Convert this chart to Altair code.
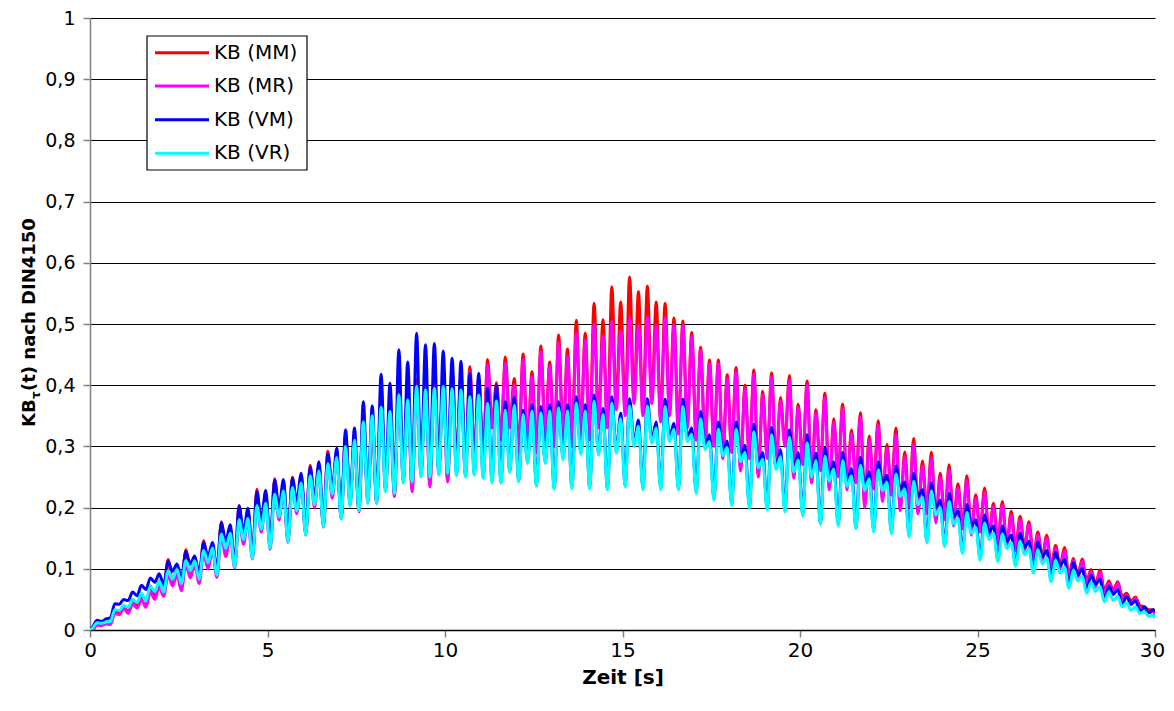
import altair as alt
import pandas as pd

FONT = "DejaVu Sans"
FS = 20

series_names = ["KB (MM)", "KB (MR)", "KB (VM)", "KB (VR)"]
series_colors = ["#FF0000", "#FF00FF", "#0000FF", "#00FFFF"]

x_ticks = [0, 5, 10, 15, 20, 25, 30]
y_ticks = [0.0, 0.1, 0.2, 0.3, 0.4, 0.5, 0.6, 0.7, 0.8, 0.9, 1.0]

# sample times: start, then every 0.125 s (alternating troughs / peaks), end
times = [0.0] + [round(0.075 + 0.125 * k, 3) for k in range(240)] + [30.0]

kb_mm = [0.0,
    0.002, 0.010, 0.009, 0.012, 0.011, 0.030, 0.028, 0.038,
    0.030, 0.050, 0.040, 0.058, 0.042, 0.072, 0.055, 0.080,
    0.060, 0.115, 0.078, 0.100, 0.070, 0.131, 0.090, 0.115,
    0.080, 0.146, 0.105, 0.138, 0.090, 0.177, 0.125, 0.165,
    0.105, 0.204, 0.145, 0.195, 0.120, 0.230, 0.165, 0.222,
    0.136, 0.247, 0.185, 0.240, 0.147, 0.250, 0.195, 0.252,
    0.159, 0.269, 0.205, 0.270, 0.172, 0.292, 0.220, 0.290,
    0.186, 0.320, 0.215, 0.310, 0.197, 0.350, 0.220, 0.345,
    0.211, 0.380, 0.235, 0.370, 0.222, 0.400, 0.250, 0.390,
    0.230, 0.410, 0.260, 0.405, 0.238, 0.420, 0.265, 0.410,
    0.246, 0.425, 0.275, 0.418, 0.260, 0.430, 0.285, 0.410,
    0.285, 0.442, 0.335, 0.404, 0.315, 0.446, 0.335, 0.411,
    0.295, 0.451, 0.305, 0.422, 0.295, 0.464, 0.315, 0.438,
    0.305, 0.482, 0.315, 0.459, 0.305, 0.506, 0.325, 0.485,
    0.315, 0.534, 0.335, 0.507, 0.335, 0.561, 0.365, 0.536,
    0.355, 0.577, 0.375, 0.553, 0.355, 0.562, 0.375, 0.536,
    0.345, 0.534, 0.355, 0.510, 0.325, 0.505, 0.335, 0.486,
    0.315, 0.462, 0.305, 0.441, 0.305, 0.441, 0.285, 0.417,
    0.295, 0.429, 0.265, 0.400, 0.285, 0.425, 0.255, 0.390,
    0.285, 0.420, 0.269, 0.380, 0.305, 0.416, 0.253, 0.369,
    0.275, 0.407, 0.245, 0.360, 0.265, 0.387, 0.234, 0.345,
    0.255, 0.369, 0.234, 0.327, 0.245, 0.355, 0.205, 0.317,
    0.235, 0.342, 0.215, 0.303, 0.225, 0.330, 0.200, 0.291,
    0.205, 0.313, 0.195, 0.276, 0.195, 0.291, 0.180, 0.256,
    0.185, 0.270, 0.175, 0.239, 0.170, 0.252, 0.160, 0.221,
    0.165, 0.232, 0.155, 0.207, 0.145, 0.210, 0.140, 0.194,
    0.135, 0.186, 0.135, 0.177, 0.120, 0.160, 0.120, 0.155,
    0.105, 0.138, 0.105, 0.135, 0.090, 0.117, 0.090, 0.116,
    0.080, 0.099, 0.075, 0.098, 0.065, 0.080, 0.065, 0.079,
    0.055, 0.060, 0.047, 0.054, 0.040, 0.038, 0.033, 0.033,
    0.028]

kb_mr = [0.0,
    0.000, 0.008, 0.007, 0.010, 0.009, 0.027, 0.025, 0.035,
    0.027, 0.042, 0.036, 0.050, 0.037, 0.062, 0.050, 0.070,
    0.055, 0.090, 0.072, 0.090, 0.064, 0.108, 0.085, 0.108,
    0.076, 0.125, 0.100, 0.130, 0.086, 0.155, 0.120, 0.155,
    0.101, 0.180, 0.140, 0.180, 0.116, 0.205, 0.160, 0.210,
    0.132, 0.225, 0.180, 0.230, 0.143, 0.240, 0.190, 0.248,
    0.155, 0.260, 0.200, 0.265, 0.168, 0.280, 0.215, 0.285,
    0.182, 0.310, 0.210, 0.305, 0.193, 0.340, 0.215, 0.335,
    0.207, 0.370, 0.230, 0.360, 0.218, 0.390, 0.245, 0.380,
    0.226, 0.400, 0.255, 0.395, 0.234, 0.410, 0.260, 0.400,
    0.242, 0.415, 0.270, 0.410, 0.255, 0.422, 0.280, 0.410,
    0.280, 0.433, 0.330, 0.396, 0.310, 0.436, 0.330, 0.400,
    0.290, 0.442, 0.300, 0.414, 0.290, 0.455, 0.310, 0.431,
    0.300, 0.469, 0.310, 0.447, 0.300, 0.485, 0.320, 0.474,
    0.310, 0.500, 0.330, 0.480, 0.330, 0.504, 0.360, 0.489,
    0.350, 0.509, 0.370, 0.497, 0.350, 0.511, 0.370, 0.497,
    0.340, 0.510, 0.350, 0.498, 0.320, 0.498, 0.330, 0.479,
    0.310, 0.457, 0.300, 0.435, 0.300, 0.435, 0.280, 0.410,
    0.290, 0.422, 0.260, 0.394, 0.280, 0.418, 0.250, 0.384,
    0.280, 0.413, 0.264, 0.374, 0.300, 0.409, 0.248, 0.363,
    0.270, 0.400, 0.240, 0.354, 0.260, 0.380, 0.229, 0.339,
    0.250, 0.362, 0.229, 0.321, 0.240, 0.348, 0.200, 0.311,
    0.230, 0.335, 0.210, 0.297, 0.220, 0.319, 0.195, 0.283,
    0.200, 0.303, 0.190, 0.268, 0.190, 0.282, 0.175, 0.249,
    0.180, 0.262, 0.170, 0.232, 0.165, 0.244, 0.155, 0.215,
    0.160, 0.225, 0.150, 0.201, 0.140, 0.204, 0.135, 0.188,
    0.130, 0.180, 0.130, 0.172, 0.115, 0.155, 0.115, 0.150,
    0.100, 0.133, 0.100, 0.130, 0.085, 0.113, 0.085, 0.112,
    0.075, 0.095, 0.070, 0.094, 0.060, 0.077, 0.060, 0.076,
    0.050, 0.057, 0.042, 0.052, 0.035, 0.036, 0.028, 0.031,
    0.025]

kb_vm = [0.0,
    0.005, 0.016, 0.014, 0.018, 0.020, 0.043, 0.042, 0.050,
    0.048, 0.062, 0.056, 0.073, 0.066, 0.085, 0.078, 0.092,
    0.074, 0.112, 0.096, 0.108, 0.085, 0.128, 0.108, 0.121,
    0.092, 0.142, 0.120, 0.143, 0.098, 0.175, 0.145, 0.172,
    0.108, 0.202, 0.160, 0.199, 0.122, 0.226, 0.180, 0.228,
    0.138, 0.245, 0.200, 0.246, 0.148, 0.248, 0.210, 0.256,
    0.158, 0.266, 0.215, 0.275, 0.172, 0.288, 0.230, 0.297,
    0.184, 0.327, 0.205, 0.330, 0.198, 0.373, 0.210, 0.366,
    0.210, 0.418, 0.229, 0.403, 0.226, 0.458, 0.243, 0.438,
    0.245, 0.485, 0.253, 0.466, 0.253, 0.468, 0.256, 0.456,
    0.259, 0.444, 0.255, 0.439, 0.253, 0.419, 0.256, 0.419,
    0.251, 0.395, 0.244, 0.399, 0.243, 0.373, 0.260, 0.380,
    0.245, 0.359, 0.275, 0.368, 0.238, 0.365, 0.275, 0.368,
    0.233, 0.373, 0.281, 0.368, 0.234, 0.381, 0.290, 0.368,
    0.234, 0.384, 0.289, 0.362, 0.232, 0.381, 0.292, 0.354,
    0.237, 0.378, 0.305, 0.343, 0.232, 0.378, 0.310, 0.340,
    0.232, 0.377, 0.315, 0.338, 0.232, 0.377, 0.315, 0.330,
    0.226, 0.357, 0.300, 0.319, 0.215, 0.340, 0.290, 0.309,
    0.206, 0.340, 0.280, 0.302, 0.202, 0.336, 0.270, 0.290,
    0.199, 0.331, 0.265, 0.295, 0.196, 0.327, 0.262, 0.290,
    0.189, 0.319, 0.255, 0.289, 0.175, 0.297, 0.248, 0.275,
    0.173, 0.290, 0.240, 0.264, 0.168, 0.282, 0.235, 0.259,
    0.163, 0.275, 0.240, 0.253, 0.160, 0.268, 0.230, 0.242,
    0.155, 0.256, 0.218, 0.229, 0.145, 0.240, 0.200, 0.212,
    0.139, 0.223, 0.185, 0.195, 0.128, 0.205, 0.170, 0.180,
    0.117, 0.188, 0.160, 0.170, 0.115, 0.170, 0.145, 0.155,
    0.107, 0.158, 0.135, 0.145, 0.096, 0.144, 0.120, 0.130,
    0.082, 0.127, 0.105, 0.115, 0.071, 0.110, 0.090, 0.100,
    0.063, 0.090, 0.075, 0.083, 0.049, 0.072, 0.058, 0.066,
    0.041, 0.055, 0.042, 0.048, 0.030, 0.038, 0.028, 0.033,
    0.030]

kb_vr = [0.0,
    0.003, 0.012, 0.011, 0.013, 0.014, 0.033, 0.032, 0.040,
    0.037, 0.050, 0.045, 0.060, 0.047, 0.072, 0.063, 0.080,
    0.062, 0.097, 0.083, 0.099, 0.076, 0.113, 0.097, 0.113,
    0.083, 0.130, 0.110, 0.134, 0.090, 0.157, 0.133, 0.158,
    0.103, 0.180, 0.148, 0.182, 0.117, 0.203, 0.165, 0.207,
    0.134, 0.222, 0.185, 0.227, 0.144, 0.233, 0.195, 0.240,
    0.155, 0.252, 0.205, 0.260, 0.169, 0.272, 0.222, 0.282,
    0.181, 0.300, 0.202, 0.310, 0.195, 0.340, 0.207, 0.350,
    0.207, 0.364, 0.226, 0.357, 0.223, 0.384, 0.240, 0.376,
    0.242, 0.398, 0.250, 0.392, 0.250, 0.395, 0.253, 0.398,
    0.256, 0.394, 0.252, 0.392, 0.250, 0.381, 0.253, 0.384,
    0.248, 0.370, 0.241, 0.374, 0.240, 0.359, 0.257, 0.367,
    0.242, 0.352, 0.272, 0.358, 0.235, 0.355, 0.272, 0.358,
    0.230, 0.363, 0.278, 0.358, 0.231, 0.371, 0.287, 0.358,
    0.231, 0.374, 0.286, 0.352, 0.229, 0.371, 0.289, 0.345,
    0.234, 0.366, 0.300, 0.333, 0.229, 0.366, 0.305, 0.330,
    0.229, 0.365, 0.308, 0.328, 0.229, 0.365, 0.308, 0.320,
    0.223, 0.345, 0.295, 0.308, 0.212, 0.328, 0.285, 0.298,
    0.203, 0.328, 0.275, 0.290, 0.199, 0.324, 0.265, 0.279,
    0.196, 0.319, 0.262, 0.283, 0.193, 0.315, 0.258, 0.278,
    0.186, 0.306, 0.250, 0.277, 0.172, 0.284, 0.243, 0.263,
    0.170, 0.277, 0.235, 0.252, 0.165, 0.269, 0.228, 0.247,
    0.160, 0.262, 0.228, 0.241, 0.157, 0.255, 0.218, 0.230,
    0.152, 0.243, 0.205, 0.217, 0.142, 0.227, 0.188, 0.200,
    0.136, 0.210, 0.173, 0.183, 0.125, 0.192, 0.158, 0.168,
    0.114, 0.175, 0.148, 0.158, 0.112, 0.157, 0.133, 0.143,
    0.104, 0.145, 0.123, 0.133, 0.093, 0.131, 0.108, 0.118,
    0.079, 0.114, 0.093, 0.103, 0.068, 0.098, 0.080, 0.088,
    0.060, 0.078, 0.063, 0.071, 0.046, 0.062, 0.048, 0.055,
    0.038, 0.045, 0.032, 0.038, 0.027, 0.030, 0.022, 0.024,
    0.019]

series_values = [kb_mm, kb_mr, kb_vm, kb_vr]

x_axis = alt.Axis(
    values=x_ticks, title="Zeit [s]", grid=False, labelFlush=False,
    domainColor="#000000", domainWidth=1.5, tickColor="#808080", tickSize=7, tickWidth=1.5,
    labelFont=FONT, labelFontSize=FS, labelColor="#000000", labelPadding=3,
    labelOffset={"condition": {"test": "datum.value == 30", "value": -3}, "value": 0},
    titleFont=FONT, titleFontSize=FS, titleFontWeight="bold", titleColor="#000000",
    titlePadding=7,
)
y_axis = alt.Axis(
    values=y_ticks, title=None, grid=True, gridColor="#000000", gridWidth=1.2, gridOpacity=1,
    domainColor="#808080", domainWidth=1.5, tickColor="#808080", tickSize=7, tickWidth=1.5,
    labelFont=FONT, labelFontSize=19, labelColor="#000000", labelPadding=8,
    labelExpr="datum.value == 0 ? '0' : datum.value == 1 ? '1' : replace(format(datum.value, '.1f'), '.', ',')",
)
x_enc = alt.X("t:Q", scale=alt.Scale(domain=[0, 30], nice=False, zero=False), axis=x_axis)
y_enc = alt.Y("kb:Q", scale=alt.Scale(domain=[0, 1], nice=False), axis=y_axis)

layers = []
for name, color, vals in zip(series_names, series_colors, series_values):
    df = pd.DataFrame({"t": times, "kb": vals, "series": name})
    layers.append(
        alt.Chart(df).mark_line(color=color, strokeWidth=3, interpolate="monotone", clip=True)
        .encode(x=x_enc, y=y_enc)
    )

# y-axis title with subscript tau
one = pd.DataFrame({"a": [0]})
TFS = 18
title_parts = [
    ("KB", -55, 409, TFS),
    ("\u03c4", -50, 381, 12),
    ("(t) nach DIN4150", -55, 373, TFS),
]
for txt, xv, yv, fs in title_parts:
    layers.append(
        alt.Chart(one).mark_text(
            text=txt, angle=270, align="left", baseline="alphabetic",
            font=FONT, fontSize=fs, fontWeight="bold", color="#000000",
        ).encode(x=alt.value(xv), y=alt.value(yv))
    )

# legend box
layers.append(
    alt.Chart(one).mark_rect(fill="#FFFFFF", stroke="#000000", strokeWidth=1.2)
    .encode(x=alt.value(57), x2=alt.value(217), y=alt.value(18), y2=alt.value(152))
)
legend_rows = [34.7, 68.0, 101.7, 135.3]
for name, color, ly in zip(series_names, series_colors, legend_rows):
    layers.append(
        alt.Chart(one).mark_rule(color=color, strokeWidth=3)
        .encode(x=alt.value(65), x2=alt.value(119), y=alt.value(ly))
    )
    layers.append(
        alt.Chart(one).mark_text(
            text=name, align="left", baseline="middle", font=FONT, fontSize=FS, color="#000000"
        ).encode(x=alt.value(124), y=alt.value(ly))
    )

chart = alt.layer(*layers).properties(
    width=1065, height=612,
    padding={"left": 82, "top": 10, "right": 11, "bottom": 73},
    autosize=alt.AutoSizeParams(type="none"),
    background="#FFFFFF",
).configure_view(stroke=None)

chart.save("out.html", embed_options={"renderer": "svg", "actions": False})
